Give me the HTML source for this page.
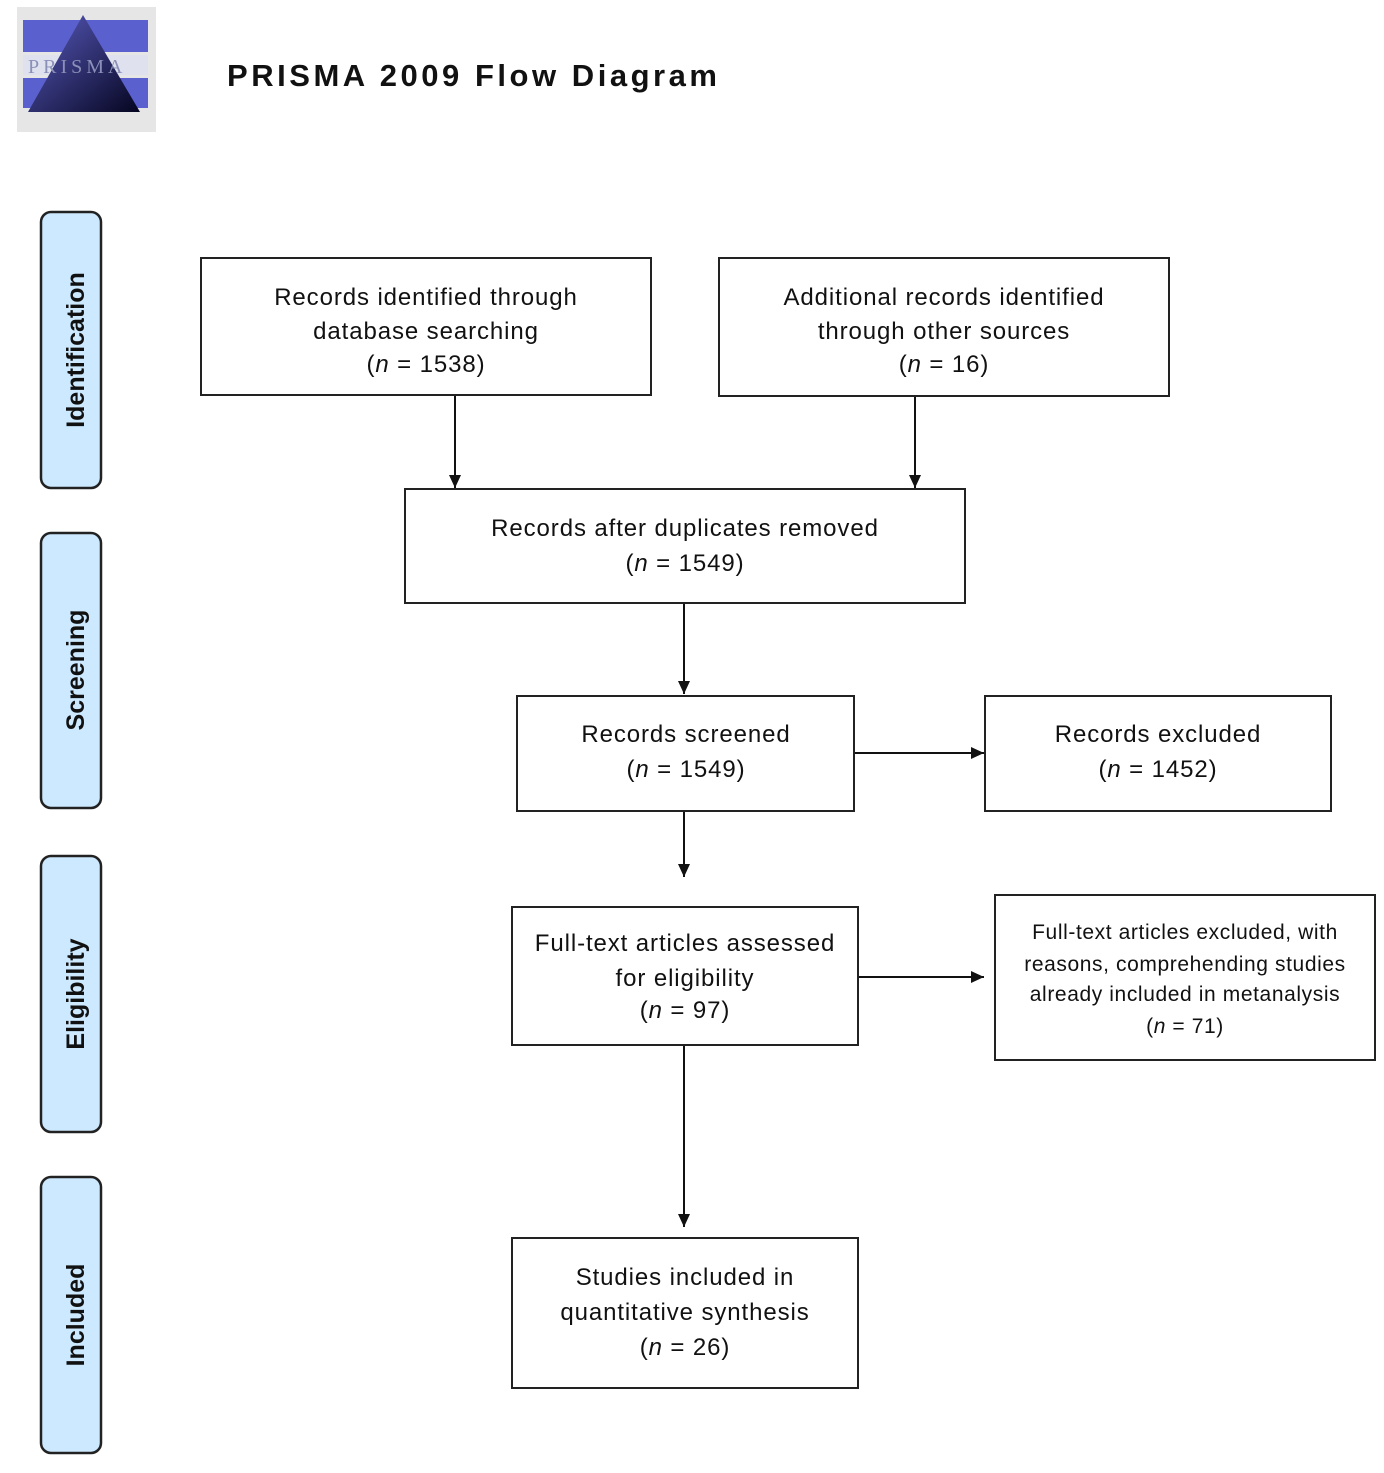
<!DOCTYPE html>
<html><head><meta charset="utf-8"><style>
html,body{margin:0;padding:0;background:#fff}
text{font-family:"Liberation Sans","DejaVu Sans",sans-serif;fill:#111}
</style></head><body>
<svg width="1384" height="1468" viewBox="0 0 1384 1468" xmlns="http://www.w3.org/2000/svg">
<defs>
<linearGradient id="tri" x1="0" y1="0" x2="1" y2="1"><stop offset="0" stop-color="#5a5cc0"/><stop offset="1" stop-color="#050520"/></linearGradient>
<marker id="ah" markerWidth="14" markerHeight="14" refX="13" refY="6" orient="auto" markerUnits="userSpaceOnUse"><path d="M0,0 L13,6 L0,12 z" fill="#111"/></marker>
</defs>
<!-- logo -->
<rect x="17" y="7" width="139" height="125" fill="#e6e6e6"/>
<rect x="23" y="20" width="125" height="32" fill="#5a61cf"/>
<rect x="23" y="78" width="125" height="30" fill="#5a61cf"/>
<rect x="23" y="55" width="125" height="20" fill="#dfe2ee"/>
<polygon points="83,15 140,112 28,112" fill="url(#tri)"/>
<text x="28" y="73" font-size="20" style="fill:#8a90b8;font-family:'Liberation Serif',serif;letter-spacing:4px">PRISMA</text>
<text x="227" y="86" font-size="31" font-weight="bold" textLength="490" lengthAdjust="spacing">PRISMA 2009 Flow Diagram</text>
<!-- side bars -->
<g fill="#cce9ff" stroke="#222" stroke-width="2.5">
<rect x="41" y="212" width="60" height="276" rx="10"/>
<rect x="41" y="533" width="60" height="275" rx="10"/>
<rect x="41" y="856" width="60" height="276" rx="10"/>
<rect x="41" y="1177" width="60" height="276" rx="10"/>
</g>
<g font-size="25" font-weight="bold" text-anchor="middle">
<text transform="translate(84,350) rotate(-90)">Identification</text>
<text transform="translate(84,670) rotate(-90)">Screening</text>
<text transform="translate(84,994) rotate(-90)">Eligibility</text>
<text transform="translate(84,1315) rotate(-90)">Included</text>
</g>
<!-- boxes -->
<g fill="#fff" stroke="#222" stroke-width="2">
<rect x="201" y="258" width="450" height="137"/>
<rect x="719" y="258" width="450" height="138"/>
<rect x="405" y="489" width="560" height="114"/>
<rect x="517" y="696" width="337" height="115"/>
<rect x="985" y="696" width="346" height="115"/>
<rect x="512" y="907" width="346" height="138"/>
<rect x="995" y="895" width="380" height="165"/>
<rect x="512" y="1238" width="346" height="150"/>
</g>
<g font-size="24" text-anchor="middle" style="letter-spacing:0.9px">
<text x="426" y="305">Records identified through</text>
<text x="426" y="339">database searching</text>
<text x="426" y="372">(<tspan font-style="italic">n</tspan> = 1538)</text>
<text x="944" y="305">Additional records identified</text>
<text x="944" y="339">through other sources</text>
<text x="944" y="372">(<tspan font-style="italic">n</tspan> = 16)</text>
<text x="685" y="536">Records after duplicates removed</text>
<text x="685" y="571">(<tspan font-style="italic">n</tspan> = 1549)</text>
<text x="686" y="742">Records screened</text>
<text x="686" y="777">(<tspan font-style="italic">n</tspan> = 1549)</text>
<text x="1158" y="742">Records excluded</text>
<text x="1158" y="777">(<tspan font-style="italic">n</tspan> = 1452)</text>
<text x="685" y="951">Full-text articles assessed</text>
<text x="685" y="986">for eligibility</text>
<text x="685" y="1018">(<tspan font-style="italic">n</tspan> = 97)</text>
<text x="685" y="1285">Studies included in</text>
<text x="685" y="1320">quantitative synthesis</text>
<text x="685" y="1355">(<tspan font-style="italic">n</tspan> = 26)</text>
</g>
<g font-size="21" text-anchor="middle" style="letter-spacing:0.6px">
<text x="1185" y="939">Full-text articles excluded, with</text>
<text x="1185" y="971">reasons, comprehending studies</text>
<text x="1185" y="1001">already included in metanalysis</text>
<text x="1185" y="1033">(<tspan font-style="italic">n</tspan> = 71)</text>
</g>
<!-- arrows -->
<g stroke="#111" stroke-width="2" marker-end="url(#ah)">
<line x1="455" y1="396" x2="455" y2="488"/>
<line x1="915" y1="397" x2="915" y2="488"/>
<line x1="684" y1="604" x2="684" y2="694"/>
<line x1="855" y1="753" x2="984" y2="753"/>
<line x1="684" y1="812" x2="684" y2="877"/>
<line x1="859" y1="977" x2="984" y2="977"/>
<line x1="684" y1="1046" x2="684" y2="1227"/>
</g>
</svg>
</body></html>
